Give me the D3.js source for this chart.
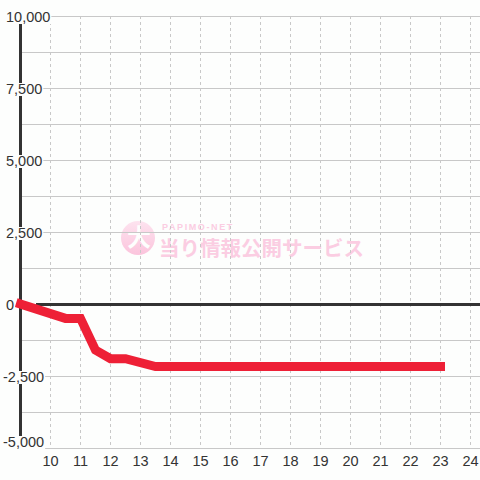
<!DOCTYPE html>
<html><head><meta charset="utf-8">
<script src="https://cdn.jsdelivr.net/npm/d3@7"></script>
<style>html,body{margin:0;padding:0;background:#fff}svg{display:block}</style>
</head><body>
<script>
// data
const hours = [9, 10.5, 11, 11.5, 12, 12.5, 13.5, 23];
const values = [0, -500, -500, -1600, -1900, -1900, -2170, -2170];
const yTicks = [10000, 7500, 5000, 2500, 0, -2500, -5000];
const yGrid = [10000, 8750, 7500, 6250, 5000, 3750, 2500, 1250, 0, -1250, -2500, -3750, -5000];
const xTicks = [10, 11, 12, 13, 14, 15, 16, 17, 18, 19, 20, 21, 22, 23, 24];

const W = 480, H = 480;
const svg = d3.select("body").append("svg").attr("width", W).attr("height", H);
svg.append("rect").attr("width", W).attr("height", H).attr("fill", "#fdfefd");

const x = d3.scaleLinear().domain([9, 24]).range([20.5, 470.5]);
const y = d3.scaleLinear().domain([-5000, 10000]).range([448, 16]);

// watermark
const wm = svg.append("g");
const defs = svg.append("defs");
const grad = defs.append("linearGradient").attr("id", "wg").attr("x1", 0).attr("y1", 0).attr("x2", 0).attr("y2", 1);
grad.append("stop").attr("offset", "0%").attr("stop-color", "#fde3ef");
grad.append("stop").attr("offset", "100%").attr("stop-color", "#fbc4dc");
wm.append("circle").attr("cx", 138).attr("cy", 238).attr("r", 17).attr("fill", "url(#wg)");
wm.append("text").attr("x", 139).attr("y", 246).attr("text-anchor", "middle")
  .attr("font-family", "Noto Sans CJK JP").attr("font-weight", "bold").attr("font-size", 24)
  .attr("fill", "#fdfefd").text("大");
wm.append("text").attr("x", 162).attr("y", 230)
  .attr("font-family", "Liberation Sans, Arial").attr("font-weight", "bold").attr("font-size", 9)
  .attr("letter-spacing", 1.6).attr("fill", "#fbcde2").text("PAPIMO-NET");
wm.append("text").attr("x", 159).attr("y", 256)
  .attr("font-family", "Noto Sans CJK JP").attr("font-weight", "bold").attr("font-size", 20.5)
  .attr("fill", "#fbcde2").text("当り情報公開サービス");

// grid
svg.append("g").selectAll("line").data(yGrid).join("line")
  .attr("x1", 20).attr("x2", W)
  .attr("y1", d => Math.round(y(d)) + 0.5).attr("y2", d => Math.round(y(d)) + 0.5)
  .attr("stroke", "#c8c8c8").attr("stroke-width", 1);
svg.append("g").selectAll("line").data(xTicks).join("line")
  .attr("x1", d => x(d)).attr("x2", d => x(d))
  .attr("y1", 16).attr("y2", 448)
  .attr("stroke", "#c8c8c8").attr("stroke-width", 1).attr("stroke-dasharray", "3,3");

// axes lines
svg.append("line").attr("x1", 20.5).attr("x2", 20.5).attr("y1", 16).attr("y2", 448)
  .attr("stroke", "#333").attr("stroke-width", 3);
svg.append("line").attr("x1", 36).attr("x2", W).attr("y1", y(0) + 0.5).attr("y2", y(0) + 0.5)
  .attr("stroke", "#333").attr("stroke-width", 3);

// series line
const line = d3.line().x((d, i) => x(hours[i])).y(d => y(d));
svg.append("path").datum(values).attr("d", line)
  .attr("fill", "none").attr("stroke", "#ee2036").attr("stroke-width", 9)
  .attr("stroke-linejoin", "miter").attr("stroke-linecap", "square");

// y labels
const fmt = d3.format(",");
const yl = svg.append("g");
yTicks.forEach(v => {
  let cy = y(v) + 1;
  if (v === 10000) cy = 17;
  if (v === -5000) cy = 442;
  const t = yl.append("text").attr("x", v < 0 ? 3 : 6).attr("y", cy)
    .attr("dominant-baseline", "central")
    .attr("font-family", "Liberation Sans, Arial").attr("font-size", 14.5)
    .attr("fill", "#333").text(fmt(v).replace("−", "-"));
  const b = t.node().getBBox();
  yl.insert("rect", () => t.node()).attr("x", b.x - 1).attr("y", b.y + 2).attr("width", b.width + 2)
    .attr("height", b.height - 3).attr("fill", "#fdfefd");
});

// x labels
svg.append("g").selectAll("text").data(xTicks).join("text")
  .attr("x", d => x(d)).attr("y", 461).attr("text-anchor", "middle")
  .attr("dominant-baseline", "central")
  .attr("font-family", "Liberation Sans, Arial").attr("font-size", 14.5)
  .attr("fill", "#333").text(d => d);
</script>
</body></html>
